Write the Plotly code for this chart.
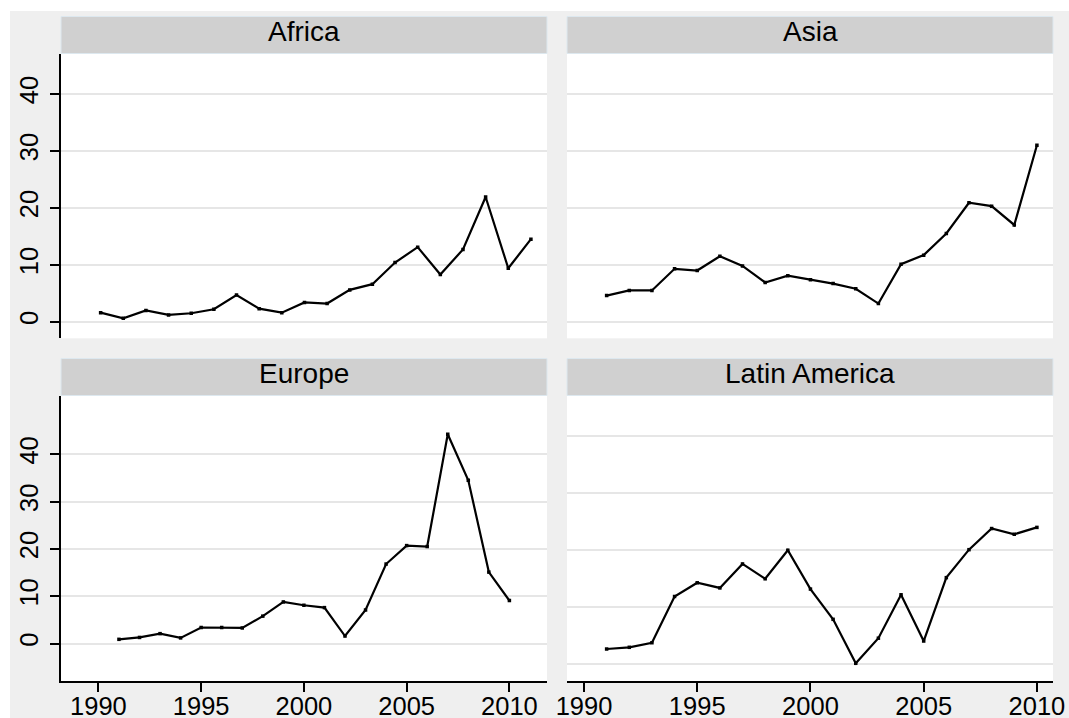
import plotly.graph_objects as go

W, H = 1069, 718

years = list(range(1991, 2011))

africa = [1.6, 0.6, 2.0, 1.2, 1.5, 2.2, 4.7, 2.3, 1.6, 3.4,
          3.2, 5.6, 6.6, 10.4, 13.1, 8.3, 12.7, 21.9, 9.4, 14.5]
asia = [4.6, 5.5, 5.5, 9.3, 9.0, 11.5, 9.8, 6.9, 8.1, 7.4,
        6.7, 5.8, 3.2, 10.1, 11.7, 15.5, 20.9, 20.3, 17.0, 31.0]
europe = [0.9, 1.3, 2.1, 1.2, 3.4, 3.4, 3.3, 5.8, 8.8, 8.1,
          7.6, 1.6, 7.1, 16.8, 20.7, 20.5, 44.2, 34.5, 15.1, 9.1]
latin_america = [2.7, 3.0, 3.8, 11.9, 14.3, 13.4, 17.6, 15.0, 20.0, 13.2,
                 7.9, 0.2, 4.6, 12.2, 4.1, 15.2, 20.1, 23.8, 22.8, 24.0]

regions = ["Africa", "Asia", "Europe", "Latin America"]
series = [africa, asia, europe, latin_america]

y_ticks = [0, 10, 20, 30, 40]
x_ticks = [1990, 1995, 2000, 2005, 2010]

# panel geometry in pixels: (left, right), (top, bottom)
left_col = (61, 547)
right_col = (567, 1053)
top_row = (53.5, 338.3)
bot_row = (395.5, 681)
strip_h = 37

panels = [
    (left_col, top_row),
    (right_col, top_row),
    (left_col, bot_row),
    (right_col, bot_row),
]

def px_x(v):
    return v / W

def px_y(v):
    return 1 - v / H

fig = go.Figure()

for i, (name, vals) in enumerate(zip(regions, series)):
    fig.add_trace(go.Scatter(
        x=years, y=vals, mode="lines+markers",
        line=dict(color="black", width=2.2),
        marker=dict(color="black", size=3.5, symbol="square"),
        xaxis=f"x{i + 1}", yaxis=f"y{i + 1}",
        showlegend=False, hoverinfo="skip", name=name,
    ))

font_family = "Liberation Sans, Arial, sans-serif"
tick_font = dict(family=font_family, size=25.5, color="black")
grid_color = "#e6e6e6"

layout = dict(
    width=W, height=H,
    margin=dict(l=0, r=0, t=0, b=0),
    paper_bgcolor="#efefef",
    plot_bgcolor="white",
    showlegend=False,
)

x_ranges = [[1989.25, 2010.71], [1989.25, 2010.71], [1988.18, 2011.83], [1989.25, 2010.71]]
y_ranges = [[-2.9, 47.1], [-2.9, 47.1], [-7.9, 52.4], [-2.9, 47.1]]

for i, (cx, ry) in enumerate(panels):
    k = "" if i == 0 else str(i + 1)
    bottom = i >= 2
    left = i % 2 == 0
    layout[f"xaxis{k}"] = dict(
        domain=[px_x(cx[0]), px_x(cx[1])],
        anchor=f"y{i + 1}",
        range=x_ranges[i],
        showgrid=False, zeroline=False, automargin=False,
        showline=bottom, linecolor="black", linewidth=1.5,
        ticks="outside" if bottom else "", ticklen=9, tickwidth=1.5, tickcolor="black",
        tickvals=x_ticks, showticklabels=bottom, tickfont=tick_font,
        ticklabelstandoff=-7,
    )
    layout[f"yaxis{k}"] = dict(
        domain=[px_y(ry[1]), px_y(ry[0])],
        anchor=f"x{i + 1}",
        range=y_ranges[i],
        showgrid=True, gridcolor=grid_color, gridwidth=2, zeroline=False, automargin=False,
        showline=left, linecolor="black", linewidth=1.5,
        ticks="outside" if left else "", ticklen=9, tickwidth=1.5, tickcolor="black",
        tickvals=y_ticks, showticklabels=left, tickfont=tick_font,
        tickangle=-90, ticklabelstandoff=2,
    )

shapes = [
    # white edge bands along the top and left of the canvas
    dict(type="rect", xref="paper", yref="paper", x0=0, x1=px_x(10), y0=0, y1=1,
         fillcolor="white", line=dict(width=0), layer="below"),
    dict(type="rect", xref="paper", yref="paper", x0=0, x1=1, y0=px_y(11), y1=1,
         fillcolor="white", line=dict(width=0), layer="below"),
]

annotations = []
for name, (cx, ry) in zip(regions, panels):
    top = ry[0]
    shapes.append(dict(
        type="rect", xref="paper", yref="paper",
        x0=px_x(cx[0]), x1=px_x(cx[1]), y0=px_y(top), y1=px_y(top - strip_h),
        fillcolor="#d0d0d0", line=dict(color="#dde8ef", width=1), layer="below",
    ))
    annotations.append(dict(
        text=name, xref="paper", yref="paper",
        x=px_x((cx[0] + cx[1]) / 2), y=px_y(top - strip_h / 2 - 3.5),
        xanchor="center", yanchor="middle", showarrow=False,
        font=dict(family=font_family, size=28, color="black"),
    ))

layout["shapes"] = shapes
layout["annotations"] = annotations
fig.update_layout(**layout)

fig.write_html("out.html")
